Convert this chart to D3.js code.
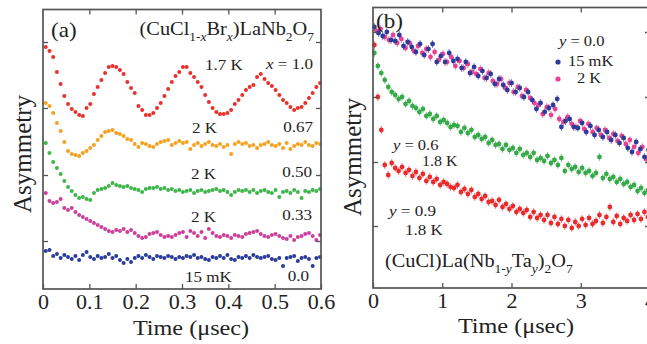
<!DOCTYPE html>
<html>
<head>
<meta charset="utf-8">
<script src="https://cdn.jsdelivr.net/npm/d3@7"></script>
<style>
  html, body { margin: 0; padding: 0; background: #fff; }
  svg { display: block; }
</style>
</head>
<body>
<div id="chart"></div>
<script>
// ---------------- Panel (a): (CuCl1-xBrx)LaNb2O7 ----------------
// Zero-field muSR asymmetry (arbitrary units, curves offset vertically), binned in time.
const timeStartA = 0.006;   // μs, centre of first bin
const binWidthA  = 0.008;   // μs

const asymA_x100 = [ // x = 1.0, 1.7 K
  24.2, 23.8, 23.2, 21.7, 20.5, 19.3, 18.5, 18.0, 17.7, 17.4,
  17.3, 18.1, 18.5, 19.5, 20.2, 20.9, 21.6, 22.2, 22.3, 22.2,
  21.9, 21.5, 20.7, 20.1, 19.6, 18.3, 17.9, 17.4, 17.4, 17.6,
  18.1, 18.6, 19.3, 20.0, 20.7, 21.3, 21.7, 22.2, 22.2, 21.6,
  21.2, 20.7, 20.2, 19.4, 18.7, 18.1, 17.7, 17.5, 17.5, 17.6,
  17.9, 18.5, 18.9, 19.4, 19.9, 20.2, 20.4, 21.2, 21.5, 21.0,
  20.6, 20.3, 19.9, 19.4, 18.9, 18.6, 18.2, 17.9, 18.1, 18.2,
  18.6, 19.1, 19.6, 20.2, 20.6
];
const asymA_x067 = [ // x = 0.67, 2 K
  18.6, 18.3, 17.6, 16.6, 15.8, 14.7, 13.8, 13.5, 13.4, 13.3,
  13.6, 13.8, 14.1, 14.4, 14.9, 15.3, 15.7, 15.8, 15.9, 15.6,
  15.5, 15.3, 15.0, 14.9, 14.5, 14.2, 14.6, 14.5, 14.3, 14.2,
  14.5, 14.7, 14.8, 14.9, 14.4, 14.6, 14.8, 14.6, 14.7, 14.0,
  14.4, 14.6, 14.3, 14.5, 14.7, 14.4, 14.3, 14.5, 14.2, 14.4,
  13.5, 14.5, 14.7, 14.5, 14.6, 14.3, 14.4, 14.1, 14.4, 14.5,
  14.7, 14.4, 14.3, 14.5, 14.1, 14.6, 14.0, 14.3, 14.5, 14.4,
  14.7, 14.4, 14.3, 14.6, 14.5
];
const asymA_x050 = [ // x = 0.50, 2 K
  14.6, 13.6, 12.7, 12.1, 11.5, 10.8, 10.2, 9.8, 9.4, 9.1,
  9.2, 9.0, 8.9, 9.6, 9.9, 10.0, 10.1, 10.3, 10.6, 10.4,
  10.3, 10.2, 10.3, 10.1, 10.0, 9.9, 9.7, 10.0, 10.1, 10.1,
  10.2, 10.0, 10.1, 9.9, 10.0, 9.8, 9.9, 9.7, 9.8, 9.9,
  9.6, 9.8, 9.9, 9.7, 9.8, 9.9, 10.0, 9.8, 9.9, 9.7,
  9.4, 9.7, 9.9, 9.8, 9.9, 9.7, 9.9, 9.6, 9.8, 9.9,
  9.7, 9.6, 9.9, 9.2, 9.7, 9.8, 9.6, 9.9, 9.7, 9.1,
  9.8, 9.7, 9.9, 9.8, 10.0
];
const asymA_x033 = [ // x = 0.33, 2 K
  9.6, 8.8, 8.6, 8.7, 9.0, 8.1, 7.9, 8.1, 7.7, 7.4,
  7.2, 7.0, 6.8, 6.6, 6.4, 6.2, 6.0, 5.8, 5.7, 5.9,
  5.8, 6.0, 5.7, 5.9, 5.6, 5.3, 5.1, 5.2, 5.5, 5.6,
  5.7, 5.4, 5.2, 5.3, 5.2, 5.4, 5.6, 5.7, 5.2, 5.8,
  5.6, 5.3, 5.7, 5.1, 6.0, 5.6, 5.3, 5.2, 5.4, 5.3,
  5.1, 5.4, 5.3, 5.2, 5.5, 5.6, 5.7, 5.8, 5.5, 5.3,
  5.2, 5.4, 5.5, 5.3, 5.1, 5.0, 5.3, 4.9, 5.2, 5.3,
  5.5, 5.6, 5.3, 4.9, 5.4
];
const asymA_x000 = [ // x = 0.0, 15 mK
  3.8, 3.9, 3.3, 3.5, 3.1, 3.4, 3.2, 3.0, 3.3, 2.9,
  3.4, 3.7, 3.2, 3.0, 3.3, 3.1, 3.2, 3.5, 3.1, 3.3,
  2.9, 2.6, 3.0, 2.7, 3.1, 3.3, 3.1, 3.4, 3.2, 3.0,
  3.3, 3.2, 3.1, 3.3, 3.2, 3.0, 3.2, 3.1, 3.3, 3.2,
  3.4, 3.1, 3.2, 3.0, 2.9, 3.2, 3.1, 3.3, 3.1, 3.4,
  3.0, 2.9, 3.2, 3.1, 3.3, 3.1, 3.4, 3.2, 3.1, 3.2,
  3.3, 3.0, 2.9, 3.1, 2.3, 3.1, 3.2, 3.3, 2.8, 3.1,
  3.2, 3.0, 2.3, 3.1, 3.2
];
const timeTicksA = [0, 0.1, 0.2, 0.3, 0.4, 0.5, 0.6];
const timeTickLabelsA = ["0", "0.1", "0.2", "0.3", "0.4", "0.5", "0.6"];
const asymTicksA = [4.8, 11.4, 18.1, 24.7];

// ---------------- Panel (b): (CuCl)La(Nb1-yTay)2O7 ----------------
const timeStartB_15mK = 0.02, binWidthB_y00 = 0.06;
const timeStartB_2K = 0.05;
const timeStartB_doped = 0.02, binWidthB_doped = 0.05;

const asymB_y00_15mK = [
  26.1, 25.5, 25.2, 25.6, 24.8, 24.7, 25.3, 24.2, 24.6, 24.1,
  23.6, 24.4, 23.3, 23.9, 24.4, 22.6, 23.2, 22.6, 23.5, 22.7,
  22.9, 22.0, 22.6, 21.5, 22.1, 21.2, 21.7, 21.0, 21.4, 20.4,
  20.9, 20.3, 19.8, 20.5, 19.6, 20.0, 19.1, 19.6, 18.8, 17.9,
  18.5, 17.6, 18.0, 18.3, 18.9, 16.1, 16.7, 16.9, 16.1, 16.0,
  16.5, 15.6, 16.2, 15.3, 15.8, 15.1, 15.6, 14.8, 15.3, 14.5,
  15.0, 14.0, 13.6, 14.6, 13.9, 13.1, 13.8
];
const asymB_y00_2K = [
  25.7, 25.9, 25.1, 24.8, 25.3, 24.5, 24.9, 24.0, 24.5, 23.7,
  24.2, 23.5, 23.9, 23.1, 23.6, 22.8, 23.4, 22.6, 23.1, 22.2,
  22.7, 22.0, 22.4, 21.6, 21.4, 21.9, 21.0, 21.5, 20.7, 20.4,
  20.9, 20.0, 20.5, 19.6, 20.1, 19.2, 19.8, 19.0, 18.5, 18.3,
  17.4, 18.1, 17.3, 17.9, 16.9, 16.6, 17.1, 16.4, 16.1, 16.7,
  15.9, 16.4, 15.6, 16.0, 15.3, 15.8, 15.0, 15.4, 14.7, 15.2,
  14.4, 14.8, 14.1, 13.5, 14.1, 12.9
];
const asymB_y06 = [ // y = 0.6, 1.8 K
  23.5, 22.2, 21.5, 20.8, 20.1, 19.6, 19.3, 18.9, 19.1, 18.4,
  18.7, 18.2, 18.0, 17.6, 17.9, 17.2, 17.4, 16.9, 17.2, 16.6,
  16.8, 16.5, 16.1, 16.3, 16.2, 15.6, 16.0, 15.5, 15.8, 15.1,
  15.3, 14.9, 15.1, 14.5, 14.8, 14.3, 14.4, 13.9, 14.3, 13.8,
  14.0, 13.5, 13.9, 13.3, 13.5, 13.1, 13.5, 12.8, 13.0, 12.7,
  13.2, 12.5, 12.8, 12.3, 13.0, 11.7, 12.3, 11.9, 12.1, 11.6,
  12.0, 11.5, 11.7, 11.2, 11.5, 13.1, 11.0, 11.4, 10.9, 11.1,
  10.6, 10.9, 10.4, 10.6, 10.1, 10.3, 9.7, 10.0, 9.5, 9.8
];
const asymB_y09 = [ // y = 0.9, 1.8 K
  24.3, 19.1, 15.8, 12.3, 11.3, 12.5, 12.0, 11.7, 12.1, 11.5,
  11.8, 11.2, 11.6, 11.0, 11.4, 10.7, 11.1, 10.6, 10.9, 10.3,
  10.6, 10.4, 10.1, 10.0, 10.3, 9.6, 9.9, 9.4, 9.8, 9.1,
  9.4, 8.9, 9.2, 8.6, 8.7, 8.3, 8.8, 8.1, 8.4, 7.9,
  8.2, 7.6, 7.9, 7.5, 7.8, 7.1, 7.6, 7.0, 7.3, 6.8,
  7.3, 6.5, 7.1, 6.4, 6.9, 6.2, 6.8, 6.0, 6.6, 6.2,
  6.9, 6.3, 7.0, 6.4, 6.7, 7.3, 6.5, 7.1, 8.1, 6.6,
  7.2, 6.4, 7.0, 6.7, 7.3, 6.8, 7.4, 6.9, 7.6, 7.1
];
const asymErrB = 0.4;
const timeTicksB = [0, 1, 2, 3, 4];
const timeTickLabelsB = ["0", "1", "2", "3", "4"];
const asymTicksB = [6.2, 12.6, 19.1, 25.6];

// ---------------- drawing ----------------
const W = 647, H = 344;
const SERIF = "'Liberation Serif', 'Times New Roman', Times, serif";
const INK = "#222";
const FRAME = "#555";
const STRETCH = 1.1;

const svg = d3.select("#chart").append("svg")
  .attr("width", W).attr("height", H)
  .attr("viewBox", `0 0 ${W} ${H}`);
svg.append("rect").attr("width", W).attr("height", H).attr("fill", "#fff");

// text with sub-scripts / italics, slightly widened like the typeset figure
function richLabel(parent, x, y, parts, size, anchor) {
  const t = parent.append("text")
    .attr("transform", `translate(${x},${y}) scale(${STRETCH},1)`)
    .attr("font-family", SERIF)
    .attr("font-size", size)
    .attr("fill", INK)
    .attr("text-anchor", anchor || "start");
  let down = false;
  const shift = size * 0.3;
  parts.forEach(p => {
    const part = typeof p === "string" ? { t: p } : p;
    const s = t.append("tspan").text(part.t);
    if (part.it) s.attr("font-style", "italic");
    if (part.sub) {
      s.attr("font-size", size * 0.66);
      if (!down) { s.attr("dy", shift); down = true; }
    } else if (down) {
      s.attr("dy", -shift); down = false;
    }
  });
  return t;
}

function drawFrame(g, xs, ys, xTicks, xLabels, yTicks) {
  const [x0, x1] = xs.range();
  const [y0, y1] = ys.range();
  // inward ticks on all four sides
  const inner = xTicks.filter(d => d > xs.domain()[0] && d < xs.domain()[1]);
  const bottom = g.append("g").attr("transform", `translate(0,${y0})`)
    .call(d3.axisBottom(xs).tickValues(xTicks).tickSizeInner(-5).tickSizeOuter(0)
      .tickPadding(6).tickFormat((d, i) => xLabels[i]));
  bottom.select(".domain").remove();
  bottom.selectAll(".tick line").attr("stroke", FRAME).attr("stroke-width", 1.3);
  bottom.selectAll(".tick text")
    .attr("font-family", SERIF).attr("font-size", 20).attr("fill", INK)
    .attr("transform", `scale(${STRETCH},1)`);

  const top = g.append("g").attr("transform", `translate(0,${y1})`)
    .call(d3.axisTop(xs).tickValues(inner).tickSizeInner(-5).tickSizeOuter(0).tickFormat(""));
  top.select(".domain").remove();
  top.selectAll(".tick line").attr("stroke", FRAME).attr("stroke-width", 1.3);

  const left = g.append("g").attr("transform", `translate(${x0},0)`)
    .call(d3.axisLeft(ys).tickValues(yTicks).tickSizeInner(-5).tickSizeOuter(0).tickFormat(""));
  left.select(".domain").remove();
  left.selectAll(".tick line").attr("stroke", FRAME).attr("stroke-width", 1.3);

  const right = g.append("g").attr("transform", `translate(${x1},0)`)
    .call(d3.axisRight(ys).tickValues(yTicks).tickSizeInner(-5).tickSizeOuter(0).tickFormat(""));
  right.select(".domain").remove();
  right.selectAll(".tick line").attr("stroke", FRAME).attr("stroke-width", 1.3);

  g.append("rect")
    .attr("x", x0).attr("y", y1).attr("width", x1 - x0).attr("height", y0 - y1)
    .attr("fill", "none").attr("stroke", FRAME).attr("stroke-width", 1.7);
}

// ---------- panel (a) ----------
const xA = d3.scaleLinear().domain([0, 0.6]).range([43, 321]);
const yA = d3.scaleLinear().domain([0, 27.95]).range([289, 9.5]);
const gA = svg.append("g");

const seriesA = [
  { values: asymA_x000, color: "#2a3b9b" },
  { values: asymA_x033, color: "#cc3f9b" },
  { values: asymA_x050, color: "#3db64a" },
  { values: asymA_x067, color: "#f6a11f" },
  { values: asymA_x100, color: "#e8302c" }
];
seriesA.forEach(s => {
  gA.append("g").selectAll("circle")
    .data(s.values)
    .join("circle")
    .attr("cx", (d, i) => xA(timeStartA + i * binWidthA))
    .attr("cy", d => yA(d))
    .attr("r", 2.0)
    .attr("fill", s.color);
});
drawFrame(gA, xA, yA, timeTicksA, timeTickLabelsA, asymTicksA);

richLabel(gA, 51, 37, ["(a)"], 21, "start");
richLabel(gA, 314, 35, ["(CuCl", { t: "1-", sub: true }, { t: "x", sub: true, it: true },
  "Br", { t: "x", sub: true, it: true }, ")LaNb", { t: "2", sub: true }, "O", { t: "7", sub: true }], 18.5, "end");
richLabel(gA, 205, 70, ["1.7 K"], 15.5, "start");
richLabel(gA, 313, 69, [{ t: "x", it: true }, " = 1.0"], 15.5, "end");
richLabel(gA, 192, 133, ["2 K"], 15.5, "start");
richLabel(gA, 313, 132, ["0.67"], 15.5, "end");
richLabel(gA, 191, 179, ["2 K"], 15.5, "start");
richLabel(gA, 312, 177, ["0.50"], 15.5, "end");
richLabel(gA, 191, 222, ["2 K"], 15.5, "start");
richLabel(gA, 312, 220, ["0.33"], 15.5, "end");
richLabel(gA, 185, 282, ["15 mK"], 15.5, "start");
richLabel(gA, 309, 281, ["0.0"], 15.5, "end");

gA.append("text")
  .attr("transform", "translate(31,154) rotate(-90)")
  .attr("text-anchor", "middle").attr("font-family", SERIF).attr("font-size", 25)
  .attr("fill", INK).text("Asymmetry");
richLabel(gA, 191, 335, ["Time (μsec)"], 22, "middle");

// ---------- panel (b) ----------
const xB = d3.scaleLinear().domain([0, 4]).range([373, 650]);
const yB = d3.scaleLinear().domain([0, 28.05]).range([288, 7.5]);
const gB = svg.append("g");

const seriesB = [
  { values: asymB_y09, t0: timeStartB_doped, dt: binWidthB_doped, color: "#ec2a2b" },
  { values: asymB_y06, t0: timeStartB_doped, dt: binWidthB_doped, color: "#36aa48" },
  { values: asymB_y00_2K, t0: timeStartB_2K, dt: binWidthB_y00, color: "#ef3f92" },
  { values: asymB_y00_15mK, t0: timeStartB_15mK, dt: binWidthB_y00, color: "#2b3c9a" }
];
const plotB = gB.append("g");
seriesB.forEach(s => {
  const pts = s.values.map((v, i) => ({ t: s.t0 + i * s.dt, v }));
  const g = plotB.append("g");
  g.selectAll("line")
    .data(pts)
    .join("line")
    .attr("x1", d => xB(d.t)).attr("x2", d => xB(d.t))
    .attr("y1", d => yB(d.v - asymErrB)).attr("y2", d => yB(d.v + asymErrB))
    .attr("stroke", s.color).attr("stroke-width", 1).attr("opacity", 0.55);
  g.selectAll("circle")
    .data(pts)
    .join("circle")
    .attr("cx", d => xB(d.t)).attr("cy", d => yB(d.v))
    .attr("r", 2.4).attr("fill", s.color);
});
drawFrame(gB, xB, yB, timeTicksB, timeTickLabelsB, asymTicksB);

richLabel(gB, 376, 28, ["(b)"], 21, "start");
richLabel(gB, 559, 46, [{ t: "y", it: true }, " = 0.0"], 15, "start");
gB.append("circle").attr("cx", xB(0) + 185).attr("cy", 62).attr("r", 2.6).attr("fill", "#2b3c9a");
richLabel(gB, 568, 66, ["15 mK"], 15, "start");
gB.append("circle").attr("cx", xB(0) + 185).attr("cy", 79).attr("r", 2.6).attr("fill", "#ef3f92");
richLabel(gB, 577, 83, ["2 K"], 15, "start");
richLabel(gB, 393, 150, [{ t: "y", it: true }, " = 0.6"], 15, "start");
richLabel(gB, 422, 166, ["1.8 K"], 14.5, "start");
richLabel(gB, 389, 216, [{ t: "y", it: true }, " = 0.9"], 15.5, "start");
richLabel(gB, 405, 235, ["1.8 K"], 15.5, "start");
richLabel(gB, 385, 267, ["(CuCl)La(Nb", { t: "1-", sub: true }, { t: "y", sub: true, it: true },
  "Ta", { t: "y", sub: true, it: true }, ")", { t: "2", sub: true }, "O", { t: "7", sub: true }], 18.5, "start");

gB.append("text")
  .attr("transform", "translate(361,157) rotate(-90)")
  .attr("text-anchor", "middle").attr("font-family", SERIF).attr("font-size", 25)
  .attr("fill", INK).text("Asymmetry");
richLabel(gB, 516, 333, ["Time (μsec)"], 22, "middle");
</script>
</body>
</html>
